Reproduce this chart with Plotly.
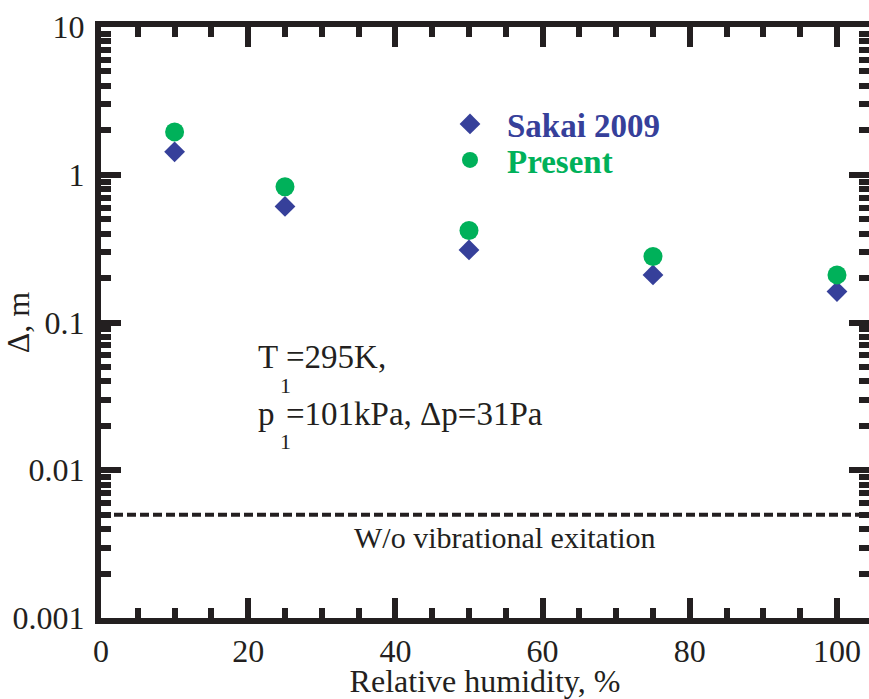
import plotly.graph_objects as go

humidity = [10, 25, 50, 75, 100]
sakai_2009 = [1.43, 0.61, 0.31, 0.21, 0.162]
present = [1.95, 0.83, 0.42, 0.28, 0.21]
no_vib_level = 0.005

y_tickvals = [0.001, 0.01, 0.1, 1, 10]
y_ticktext = ["0.001", "0.01", "0.1", "1", "10"]
x_tickvals = [0, 20, 40, 60, 80, 100]

BLUE = "#36409A"
GREEN = "#00B15A"
INK = "#231F20"
FONT = "Liberation Serif"

fig = go.Figure()
fig.add_trace(go.Scatter(
    x=humidity, y=sakai_2009, mode="markers", legend="legend",
    name=f"<span style='color:{BLUE}'><b>Sakai 2009</b></span>",
    marker=dict(symbol="diamond", size=16, color=BLUE),
))
fig.add_trace(go.Scatter(
    x=humidity, y=present, mode="markers", legend="legend2",
    name=f"<span style='color:{GREEN}'><b>Present</b></span>",
    marker=dict(symbol="circle", size=19, color=GREEN),
))

fig.add_hline(y=no_vib_level, line=dict(color=INK, width=4, dash="9px,4px"))

W, H = 869, 699
L, R, T, B = 101, 0, 27, 81
pw, ph = W - L - R, H - T - B

def px(x):
    return (x - L) / pw

def py(y):
    return (H - B - y) / ph

def note(text, x, y, size, anchor="left"):
    fig.add_annotation(text=text, xref="paper", yref="paper",
                       x=px(x), y=py(y), xanchor=anchor, yanchor="middle",
                       showarrow=False, font=dict(family=FONT, size=size, color=INK))

# T_1 = 295K,
note("T", 256, 357, 33)
note("1", 278, 385, 22)
note("=295K,", 284, 357, 33)
# p_1 = 101kPa, Δp = 31Pa
note("p", 256, 414, 33)
note("1", 278, 441, 22)
note("=101kPa, Δp=31Pa", 284, 414, 33)
note("W/o vibrational exitation", 505, 537, 30, anchor="center")

axis_common = dict(
    showline=True, linecolor=INK, linewidth=6, mirror="ticks",
    ticks="inside", ticklen=20, tickwidth=6, tickcolor=INK,
    showgrid=False, zeroline=False, automargin=False,
    tickfont=dict(family=FONT, size=32, color=INK),
)

fig.update_xaxes(
    range=[0, 104.35], tickvals=x_tickvals,
    minor=dict(ticks="inside", ticklen=10, tickwidth=6, tickcolor=INK, dtick=5),
    title=dict(text="Relative humidity, %", font=dict(family=FONT, size=32, color=INK), standoff=5),
    **axis_common,
)
fig.update_yaxes(
    type="log", range=[-3, 1], tickvals=y_tickvals, ticktext=y_ticktext,
    minor=dict(ticks="inside", ticklen=10, tickwidth=6, tickcolor=INK, dtick="D1"),
    ticklabelstandoff=4,
    title=dict(text="Δ, m", font=dict(family=FONT, size=32, color=INK), standoff=2),
    **axis_common,
)

legend_common = dict(xanchor="left", yanchor="top", bgcolor="rgba(0,0,0,0)",
                     itemwidth=64, font=dict(family=FONT, size=33))
fig.update_layout(
    width=W, height=H,
    margin=dict(l=L, r=R, t=T, b=B),
    paper_bgcolor="white", plot_bgcolor="white",
    showlegend=True,
    legend=dict(x=px(433), y=py(96), **legend_common),
    legend2=dict(x=px(433), y=py(132), **legend_common),
)

fig.write_html("out.html", config={"displayModeBar": False},
               post_script="document.body.style.margin='0';")
